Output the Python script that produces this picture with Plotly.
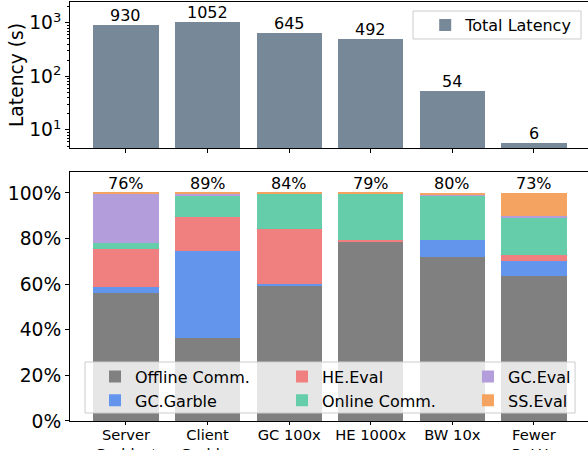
import plotly.graph_objects as go
import math

categories = ["Server<br>Garbler*", "Client<br>Garbler", "GC 100x", "HE 1000x", "BW 10x", "Fewer<br>ReLUs"]
total_latency = [930, 1052, 645, 492, 54, 5.7]
comm_pct = [76, 89, 84, 79, 80, 73]

offline_comm = [0.563, 0.364, 0.596, 0.788, 0.719, 0.636]
gc_garble = [0.025, 0.382, 0.006, 0.001, 0.075, 0.066]
he_eval = [0.166, 0.149, 0.239, 0.006, 0.001, 0.026]
online_comm = [0.027, 0.093, 0.155, 0.202, 0.193, 0.165]
gc_eval = [0.216, 0.010, 0.001, 0.000, 0.002, 0.007]
ss_eval = [0.003, 0.002, 0.003, 0.003, 0.010, 0.100]

log_major = [10, 100, 1000]
log_major_text = ["10<sup>1</sup>", "10<sup>2</sup>", "10<sup>3</sup>"]
log_minor = [5, 6, 7, 8, 9, 20, 30, 40, 50, 60, 70, 80, 90,
             200, 300, 400, 500, 600, 700, 800, 900, 2000]
pct_ticks = [0, 0.2, 0.4, 0.6, 0.8, 1.0]

# (name, values, colour, legend column)
series = [
    ("Offline Comm.", offline_comm, "#808080", "legend"),
    ("GC.Garble", gc_garble, "#6495ED", "legend"),
    ("HE.Eval", he_eval, "#F08080", "legend3"),
    ("Online Comm.", online_comm, "#66CDAA", "legend3"),
    ("GC.Eval", gc_eval, "#B39DDB", "legend4"),
    ("SS.Eval", ss_eval, "#F4A460", "legend4"),
]

FONT = "DejaVu Sans"
xs = list(range(len(categories)))

fig = go.Figure()
fig.add_trace(go.Bar(
    x=xs, y=total_latency, width=0.8, marker=dict(color="#778899", line=dict(width=0)),
    name="Total Latency", xaxis="x", yaxis="y", legend="legend2",
))
for name, vals, color, lg in series:
    fig.add_trace(go.Bar(
        x=xs, y=vals, width=0.8, marker=dict(color=color, line=dict(width=0)),
        name=name, xaxis="x2", yaxis="y2", legend=lg,
    ))

annotations = []
for i, v in enumerate(total_latency):
    annotations.append(dict(x=i, y=math.log10(v), xref="x", yref="y", text=f"{v:.0f}",
                            showarrow=False, yanchor="bottom", yshift=-2,
                            font=dict(family=FONT, size=16, color="black")))
for i, p in enumerate(comm_pct):
    top = sum(s[1][i] for s in series)
    annotations.append(dict(x=i, y=top, xref="x2", yref="y2", text=f"{p}%",
                            showarrow=False, yanchor="bottom", yshift=-2,
                            font=dict(family=FONT, size=16, color="black")))

shapes = [
    dict(type="rect", xref="paper", yref="paper", x0=0.029, x1=0.975, y0=0.0191, y1=0.1408,
         fillcolor="rgba(255,255,255,0.8)", line=dict(color="#cccccc", width=1), layer="above"),
    dict(type="rect", xref="paper", yref="paper", x0=0.6622, x1=0.9865, y0=0.9117, y1=0.9785,
         fillcolor="rgba(255,255,255,0.8)", line=dict(color="#cccccc", width=1), layer="above"),
]

legend_common = dict(bgcolor="rgba(0,0,0,0)", borderwidth=0, font=dict(size=16),
                     xanchor="left", yanchor="top", orientation="v", traceorder="normal")

xrange = [-0.686, 5.662]
axis_common = dict(showline=True, linecolor="black", linewidth=1, ticks="outside", ticklen=4,
                   tickcolor="black", showgrid=False, zeroline=False)
fig.update_layout(
    width=588, height=450,
    margin=dict(l=70, r=0, t=2, b=29),
    plot_bgcolor="white", paper_bgcolor="white",
    barmode="stack",
    font=dict(family=FONT, color="black"),
    annotations=annotations,
    shapes=shapes,
    xaxis=dict(domain=[0, 1], anchor="y", range=xrange, tickvals=xs, ticktext=[""] * 6,
               mirror=True, **axis_common),
    yaxis=dict(domain=[0.6516, 1], anchor="x", type="log", range=[0.663, 3.39],
               tickvals=log_major, ticktext=log_major_text,
               tickfont=dict(size=18.7), title=dict(text="Latency (s)", font=dict(size=18.7), standoff=0),
               minor=dict(tickvals=log_minor, ticks="outside", ticklen=2, tickcolor="black", showgrid=False),
               **axis_common),
    xaxis2=dict(domain=[0, 1], anchor="y2", range=xrange, tickvals=xs, ticktext=categories,
                showline=True, linecolor="black", linewidth=1, mirror=True, ticks="",
                showgrid=False, zeroline=False, tickfont=dict(size=14.7), automargin=False),
    xaxis3=dict(domain=[0, 1], anchor="y2", overlaying="x2", range=xrange, tickvals=xs,
                showticklabels=False, ticks="outside", ticklen=3, tickcolor="black",
                showline=False, showgrid=False, zeroline=False),
    yaxis2=dict(domain=[0, 0.5943], anchor="x2", range=[0, 1.092], tickvals=pct_ticks,
                tickformat=".0%", tickfont=dict(size=18.7), **axis_common),
    legend=dict(x=0.0483, y=0.1465, **legend_common),
    legend3=dict(x=0.4093, y=0.1465, **legend_common),
    legend4=dict(x=0.7683, y=0.1465, **legend_common),
    legend2=dict(x=0.6857, y=0.9856, **legend_common),
)
# invisible helper trace so the tick-only overlay axis is drawn
fig.add_trace(go.Scatter(x=[xs[0]], y=[0], xaxis="x3", yaxis="y2", mode="markers",
                         marker=dict(opacity=0), showlegend=False, hoverinfo="skip"))

fig.write_html("out.html", config={"displayModeBar": False},
               post_script="document.body.style.margin='0';")
